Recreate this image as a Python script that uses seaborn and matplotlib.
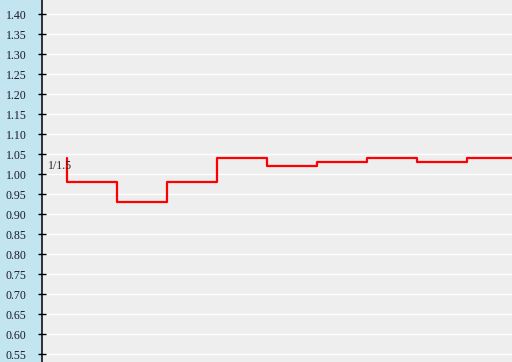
import numpy as np
import pandas as pd
import matplotlib
matplotlib.use("Agg")
import matplotlib.pyplot as plt
import seaborn as sns

# Data
step_x = [0, 0, 1, 2, 3, 4, 5, 6, 7, 8, 9]
step_y = [1.04, 0.98, 0.93, 0.98, 1.04, 1.02, 1.03, 1.04, 1.03, 1.04, 1.04]
y_ticks = [0.55, 0.60, 0.65, 0.70, 0.75, 0.80, 0.85, 0.90, 0.95, 1.00,
           1.05, 1.10, 1.15, 1.20, 1.25, 1.30, 1.35, 1.40]
label_text = "1/1.5"

sns.set_theme(style="white")
plt.rcParams['font.family'] = ['Liberation Serif', 'DejaVu Serif']

W, H, DPI = 512, 362, 100
fig = plt.figure(figsize=(W / DPI, H / DPI), dpi=DPI)
fig.patch.set_facecolor('#c2e5f1')
left_px = 41.5
ax = fig.add_axes([left_px / W, 0, 1 - left_px / W, 1])
ax.set_facecolor('#eeeeee')

df = pd.DataFrame({'x': step_x, 'y': step_y})
sns.lineplot(data=df, x='x', y='y', ax=ax, sort=False, estimator=None,
             color='#ff0000', linewidth=1.6, drawstyle='steps-post', zorder=3)

ax.set_xlim((left_px - 67) / 50, (512 - 67) / 50)
ax.set_ylim(0.531, 1.436)

ax.set_yticks(y_ticks)
ax.set_yticklabels([f"{v:.2f}" for v in y_ticks])
ax.set_xticks([])
ax.set_xlabel('')
ax.set_ylabel('')
ax.grid(axis='y', color='white', linewidth=1.0)
ax.grid(axis='x', visible=False)
ax.tick_params(axis='y', direction='inout', length=5.8, width=1.0, color='black',
               pad=8.0, labelsize=8.6, labelcolor='#1c1c28', left=True)
for s in ['top', 'right', 'bottom']:
    ax.spines[s].set_visible(False)
ax.spines['left'].set_color('black')
ax.spines['left'].set_linewidth(1.1)

ax.text(-0.38, 1.021, label_text, ha='left', va='center', fontsize=8.6,
        color='#2a2a2a', zorder=4)

fig.savefig('out.png', dpi=DPI, facecolor=fig.get_facecolor())
